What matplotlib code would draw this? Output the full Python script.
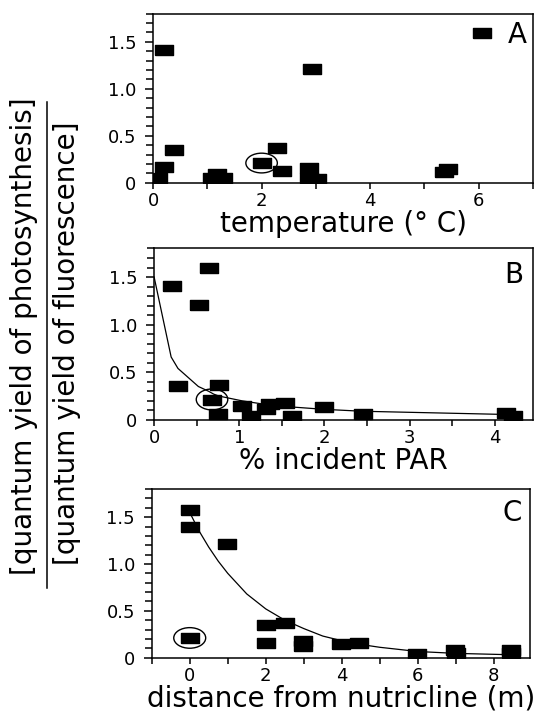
import numpy as np
import matplotlib
matplotlib.use('Agg')
import matplotlib.pyplot as plt
from matplotlib.patches import Ellipse
from matplotlib.lines import Line2D
from matplotlib.ticker import MultipleLocator, FuncFormatter

plt.rcParams['font.family'] = ['DejaVu Sans']

# panel A: yield ratio vs temperature
temp_x = [0.1, 0.2, 0.21, 0.39, 1.09, 1.18, 1.28, 2.0, 2.28, 2.37, 2.88, 2.87, 3.02, 2.92, 5.36, 5.44, 6.06]
temp_y = [0.05, 0.17, 1.41, 0.35, 0.05, 0.09, 0.05, 0.21, 0.37, 0.13, 0.16, 0.05, 0.035, 1.21, 0.11, 0.15, 1.59]
temp_circled = (2.0, 0.21)

# panel B: yield ratio vs % incident PAR
par_x = [0.215, 0.28, 0.525, 0.64, 0.68, 0.76, 0.745, 1.03, 1.14, 1.32, 1.36, 1.54, 1.62, 1.99, 2.45, 4.13, 4.22]
par_y = [1.405, 0.36, 1.21, 1.59, 0.21, 0.37, 0.06, 0.15, 0.04, 0.116, 0.17, 0.176, 0.04, 0.14, 0.06, 0.077, 0.04]
par_circled = (0.68, 0.214)
par_fit_x = [0, 0.2, 0.28, 0.52, 0.64, 0.7, 0.76, 1.03, 1.32, 1.54, 2.0, 2.45, 4.2]
par_fit_y = [1.50, 0.66, 0.54, 0.35, 0.30, 0.27, 0.25, 0.20, 0.16, 0.14, 0.11, 0.09, 0.055]

# panel C: yield ratio vs distance from nutricline
dist_x = [0, 0, 0, 0.99, 2.0, 2.0, 2.5, 2.98, 2.98, 3.97, 4.45, 5.99, 6.98, 7.0, 8.44, 8.44]
dist_y = [1.58, 1.40, 0.21, 1.21, 0.35, 0.16, 0.365, 0.18, 0.12, 0.145, 0.16, 0.04, 0.08, 0.05, 0.08, 0.05]
dist_circled = (0, 0.21)
dist_fit_x = [0, 0.25, 0.5, 0.75, 1.0, 1.5, 2.0, 2.5, 3.0, 3.5, 4.0, 4.5, 5.0, 6.0, 7.0, 8.5]
dist_fit_y = [1.55, 1.35, 1.18, 1.03, 0.90, 0.68, 0.52, 0.40, 0.31, 0.23, 0.18, 0.14, 0.11, 0.065, 0.045, 0.03]

box = [(-1, -0.59), (1, -0.59), (1, 0.59), (-1, 0.59), (-1, -0.59)]

fig = plt.figure(figsize=(5.37, 7.14), dpi=100)
axA = fig.add_axes([0.285, 0.744, 0.7075, 0.237])
axB = fig.add_axes([0.287, 0.412, 0.7055, 0.240])
axC = fig.add_axes([0.2825, 0.079, 0.7045, 0.236])


def style(ax, xmin, xmax, xmaj, xmin_step):
    ax.set_xlim(xmin, xmax)
    ax.set_ylim(0, 1.8)
    ax.xaxis.set_major_locator(MultipleLocator(xmaj))
    ax.xaxis.set_minor_locator(MultipleLocator(xmin_step))
    ax.yaxis.set_major_locator(MultipleLocator(0.5))
    ax.yaxis.set_minor_locator(MultipleLocator(0.1))
    ax.yaxis.set_major_formatter(FuncFormatter(lambda v, p: '0' if v == 0 else '%.1f' % v))
    ax.tick_params(which='both', direction='out', width=1.1, labelsize=13)
    ax.tick_params(axis='y', which='major', length=6, pad=6)
    ax.tick_params(axis='y', which='minor', length=5)
    ax.tick_params(axis='x', which='both', length=4.5, pad=2)
    for s in ax.spines.values():
        s.set_linewidth(1.1)


axA.plot(temp_x, temp_y, ls='none', marker=box, ms=12.5, color='black')
style(axA, 0, 7, 2, 1)
axA.add_patch(Ellipse(temp_circled, 0.58, 0.21, fill=False, lw=1, ec='black'))
axA.set_xlabel('temperature (° C)', fontsize=20, labelpad=0)
axA.text(0.958, 0.872, 'A', transform=axA.transAxes, fontsize=20, ha='center', va='center')

axB.plot(par_fit_x, par_fit_y, color='black', lw=0.9)
axB.plot(par_x, par_y, ls='none', marker=box, ms=12.5, color='black')
style(axB, 0, 4.45, 1, 0.5)
axB.add_patch(Ellipse(par_circled, 0.37, 0.22, fill=False, lw=1, ec='black'))
axB.set_xlabel('% incident PAR', fontsize=20, labelpad=0)
axB.text(0.95, 0.845, 'B', transform=axB.transAxes, fontsize=20, ha='center', va='center')

axC.plot(dist_fit_x, dist_fit_y, color='black', lw=0.9)
axC.plot(dist_x, dist_y, ls='none', marker=box, ms=12.5, color='black')
style(axC, -1, 8.95, 2, 1)
axC.add_patch(Ellipse(dist_circled, 0.84, 0.22, fill=False, lw=1, ec='black'))
axC.set_xlabel('distance from nutricline (m)', fontsize=20, labelpad=0)
axC.text(0.952, 0.86, 'C', transform=axC.transAxes, fontsize=20, ha='center', va='center')

# y label written as a fraction
fig.text(24 / 537, 1 - 336 / 714, '[quantum yield of photosynthesis]', rotation=90,
         fontsize=20, ha='center', va='center')
fig.text(67 / 537, 1 - 343 / 714, '[quantum yield of fluorescence]', rotation=90,
         fontsize=20, ha='center', va='center')
fig.add_artist(Line2D([47 / 537, 47 / 537], [1 - 102 / 714, 1 - 588 / 714], color='black', lw=1.1))

fig.savefig('out.png', dpi=100)
